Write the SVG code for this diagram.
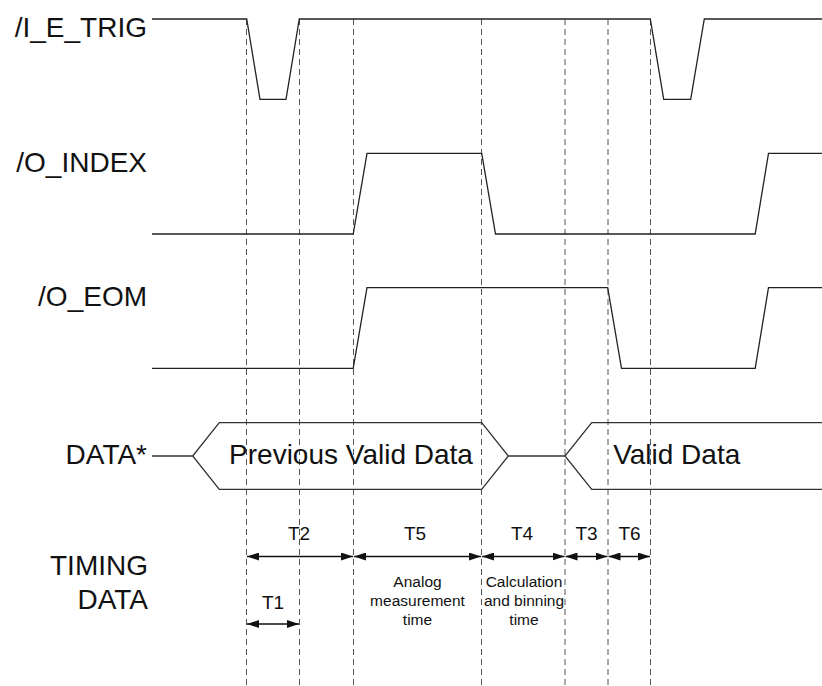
<svg xmlns="http://www.w3.org/2000/svg" width="822" height="686" viewBox="0 0 822 686">
<defs>
<marker id="ah" viewBox="0 0 12 8" refX="12" refY="4" markerWidth="12" markerHeight="8" markerUnits="userSpaceOnUse" orient="auto-start-reverse">
<path d="M0,0 L12,4 L0,8 Z" fill="#111"/>
</marker>
</defs>
<style>
text{font-family:"Liberation Sans",Arial,sans-serif;fill:#111}
.lbl{font-size:28px;text-anchor:end}
.big{font-size:28px;text-anchor:middle}
.t{font-size:19px;text-anchor:middle}
.s{font-size:15.5px;text-anchor:middle}
.sig{fill:none;stroke:#222;stroke-width:1.3;stroke-linejoin:miter}
.bus{fill:none;stroke:#333;stroke-width:1.3}
.guide{stroke:#555;stroke-width:1;stroke-dasharray:6,4;fill:none}
.dim{stroke:#111;stroke-width:1.3;fill:none;marker-start:url(#ah);marker-end:url(#ah)}
</style>
<rect width="822" height="686" fill="#fff"/>
<g id="guides">
<line class="guide" x1="246.5" y1="19" x2="246.5" y2="686"/>
<line class="guide" x1="299.5" y1="19" x2="299.5" y2="686"/>
<line class="guide" x1="353.5" y1="19" x2="353.5" y2="686"/>
<line class="guide" x1="481.5" y1="19" x2="481.5" y2="686"/>
<line class="guide" x1="565" y1="19" x2="565" y2="686"/>
<line class="guide" x1="608" y1="19" x2="608" y2="686"/>
<line class="guide" x1="650.5" y1="19" x2="650.5" y2="686"/>
</g>
<g id="sig-trig">
<text class="lbl" x="147" y="36.5">/I_E_TRIG</text>
<path class="sig" d="M152,19 H246.7 L260,99.3 H286 L299.3,19 H650.3 L663.7,99.3 H690.7 L704.3,19 H822"/>
</g>
<g id="sig-index">
<text class="lbl" x="147" y="171.5">/O_INDEX</text>
<path class="sig" d="M152,234 H353.2 L367,153.3 H481.7 L495.5,234 H755.2 L768.5,153.3 H822"/>
</g>
<g id="sig-eom">
<text class="lbl" x="147" y="305.5">/O_EOM</text>
<path class="sig" d="M152,368.3 H353.2 L367,287.7 H607.7 L621.5,368.3 H755.2 L768.5,287.7 H822"/>
</g>
<g id="sig-data">
<text class="lbl" x="147" y="463.5">DATA*</text>
<path class="bus" d="M152,456 H192.7"/>
<path class="bus" d="M192.7,456 L219.3,422.7 H481.7 L508.3,456 L481.7,489.3 H219.3 Z"/>
<text class="big" x="351" y="463.5">Previous Valid Data</text>
<path class="bus" d="M508.3,456 H565"/>
<path class="bus" d="M822,422.7 H591.7 L565,456 L591.7,489.3 H822"/>
<text class="big" x="676.7" y="464">Valid Data</text>
</g>
<g id="timing">
<text class="lbl" x="148" y="574.5">TIMING</text>
<text class="lbl" x="148" y="608.5">DATA</text>
<text class="t" x="299" y="539.5">T2</text>
<text class="t" x="415" y="539.5">T5</text>
<text class="t" x="522" y="539.5">T4</text>
<text class="t" x="586.5" y="539.5">T3</text>
<text class="t" x="629.5" y="539.5">T6</text>
<text class="t" x="273" y="609">T1</text>
<text class="s" x="417.5" y="587">Analog</text>
<text class="s" x="417.5" y="606">measurement</text>
<text class="s" x="417.5" y="624.5">time</text>
<text class="s" x="524" y="587">Calculation</text>
<text class="s" x="524" y="606">and binning</text>
<text class="s" x="524" y="624.5">time</text>
</g>
<g id="connectors">
<line class="dim" x1="247" y1="556.5" x2="353" y2="556.5"/>
<line class="dim" x1="354" y1="556.5" x2="481" y2="556.5"/>
<line class="dim" x1="482" y1="556.5" x2="564.5" y2="556.5"/>
<line class="dim" x1="565.5" y1="556.5" x2="607.5" y2="556.5"/>
<line class="dim" x1="608.5" y1="556.5" x2="650" y2="556.5"/>
<line class="dim" x1="247" y1="624" x2="299" y2="624"/>
</g>
</svg>
